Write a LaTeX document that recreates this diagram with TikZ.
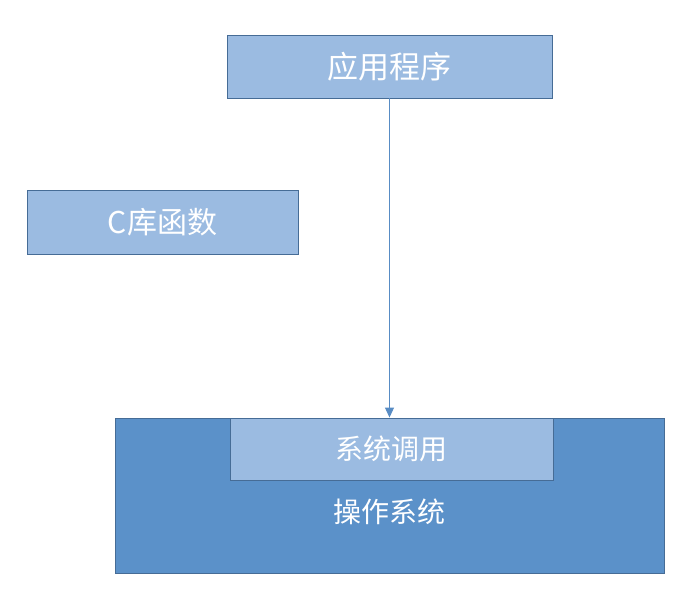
\documentclass[tikz,border=0pt]{standalone}
\usepackage{fontspec}
\setmainfont{Noto Sans CJK SC}
\usetikzlibrary{arrows.meta,positioning}
\definecolor{lightfill}{RGB}{155,187,225}
\definecolor{darkfill}{RGB}{91,145,201}
\definecolor{edgeblue}{RGB}{70,108,150}
\definecolor{arrowblue}{RGB}{88,140,196}
\tikzset{
  lightbox/.style={draw=edgeblue, line width=0.9pt, fill=lightfill,
    text=white, inner sep=0pt, align=center},
  osbox/.style={draw=edgeblue, line width=0.9pt, fill=darkfill, inner sep=0pt},
  bigtext/.style={font=\fontsize{31}{36}\selectfont},
  midtext/.style={font=\fontsize{28}{32}\selectfont},
  flow/.style={-{Triangle[length=10pt,width=9pt]}, line width=1.1pt, draw=arrowblue}
}

\begin{document}
\begin{tikzpicture}[x=1pt,y=-1pt]
\useasboundingbox (0,0) rectangle (694,597);

\node[lightbox, bigtext, minimum width=325pt, minimum height=63pt] (app) at (389.5,66.5) {应用程序};
\node[lightbox, font=\fontsize{30}{36}\selectfont, minimum width=271pt, minimum height=64pt] (clib) at (162.5,222) {C库函数};

\node[osbox, minimum width=549pt, minimum height=155pt,
  label={[midtext, text=white]center:\raisebox{-57pt}{操作系统}}] (os) at (389.5,495.5) {};
\node[lightbox, midtext, minimum width=323pt, minimum height=62pt] (syscall) at (391.5,449) {系统调用};

\draw[flow] (app.south) -- (app.south |- syscall.north);
\end{tikzpicture}
\end{document}
